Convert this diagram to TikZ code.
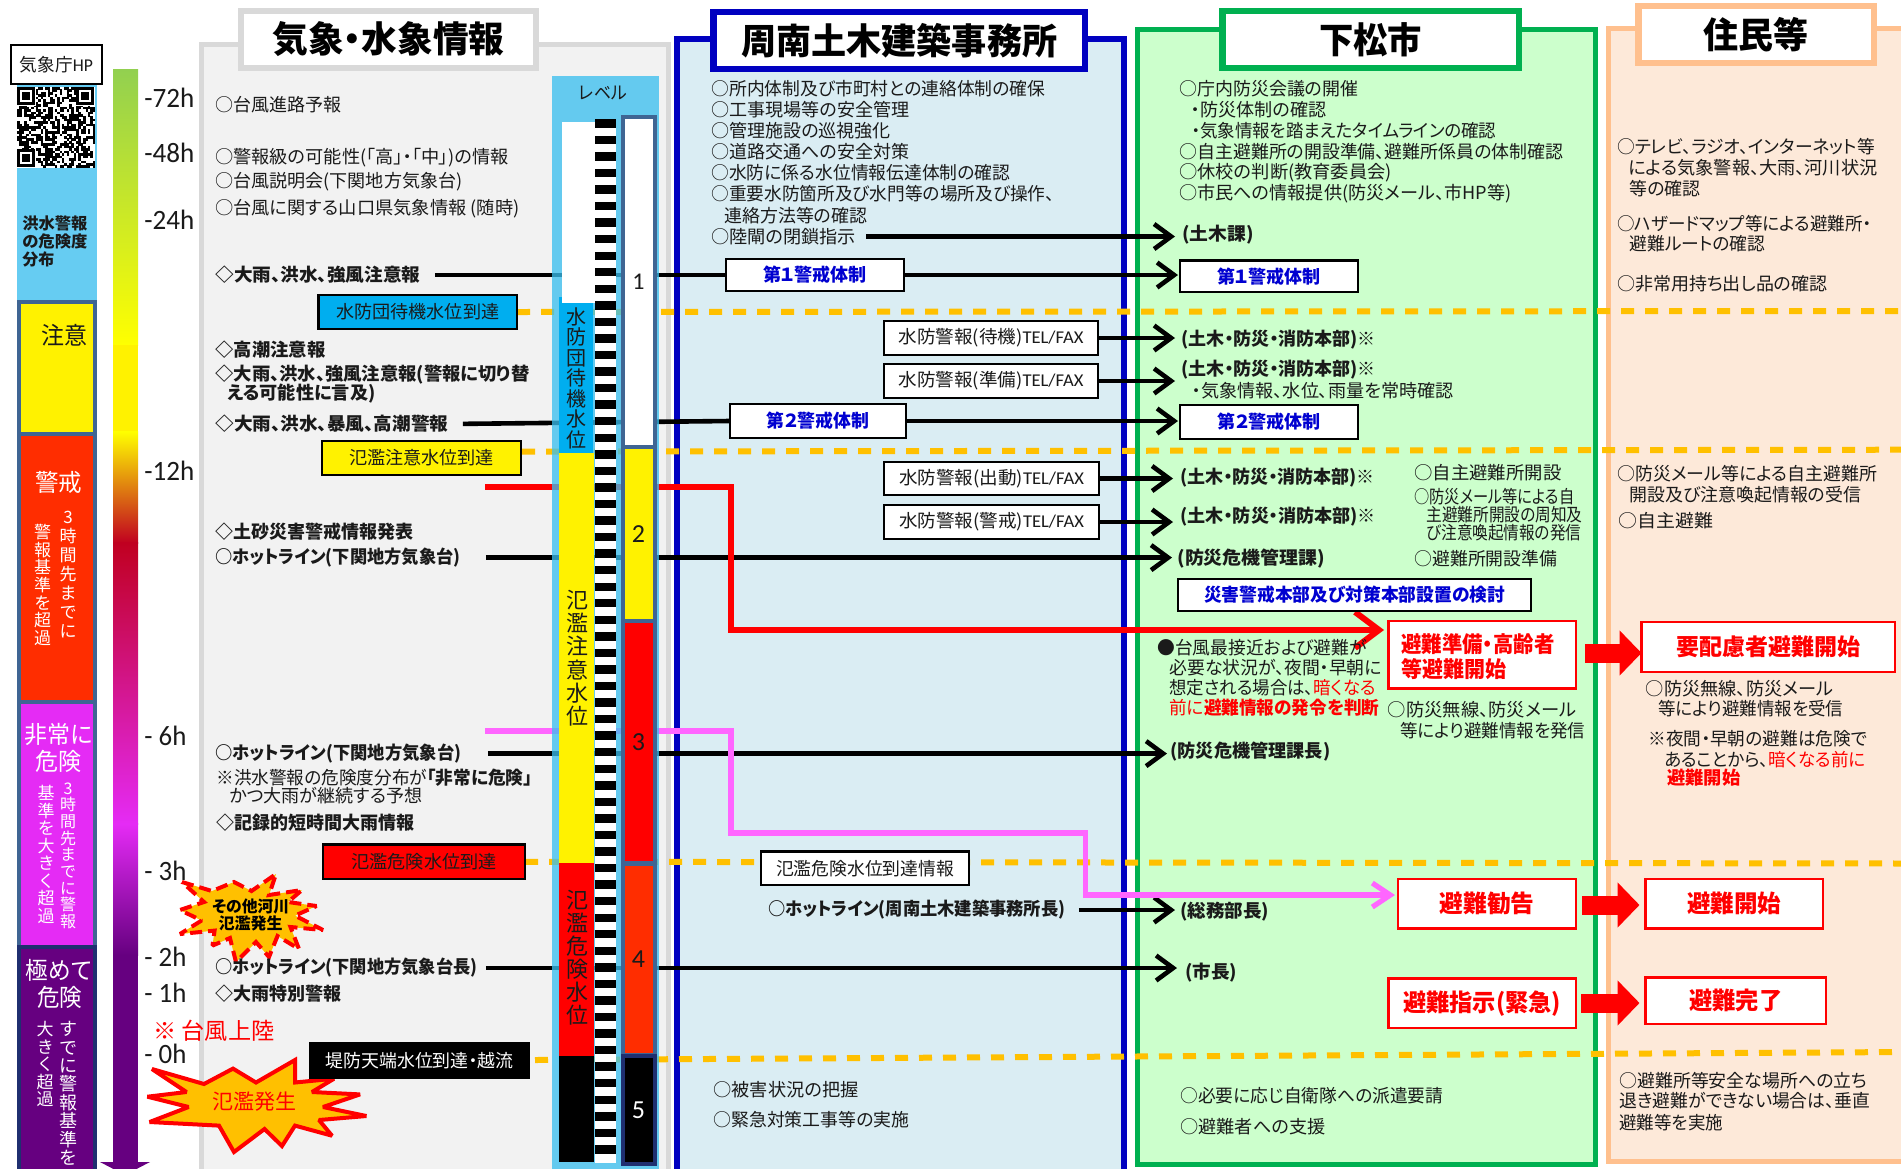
\documentclass[tikz,border=0pt]{standalone}
\usepackage{fontspec}
\usepackage{graphicx}
\setmainfont{Noto Sans CJK JP}[RawFeature=+palt]
\newfontfamily\lat{Carlito}
\usetikzlibrary{arrows.meta,calc,backgrounds}
\definecolor{gpanel}{HTML}{F2F2F2}\definecolor{gline}{HTML}{D9D9D9}
\definecolor{bpanel}{HTML}{DAEDF3}\definecolor{bline}{HTML}{0000C0}
\definecolor{lpanel}{HTML}{CCFFCC}\definecolor{lline}{HTML}{00B050}
\definecolor{opanel}{HTML}{FDE9D9}\definecolor{oline}{HTML}{FFC08E}
\definecolor{sky}{HTML}{66CCF2}\definecolor{cyanbox}{HTML}{00AEEF}
\definecolor{skyb}{HTML}{3ABFEF}
\definecolor{steel}{HTML}{3F6593}\definecolor{warn}{HTML}{FF2D00}
\definecolor{magen}{HTML}{E52BF5}\definecolor{purp}{HTML}{660080}
\definecolor{amber}{HTML}{FFC000}\definecolor{pinkl}{HTML}{FF66FF}
\definecolor{grn}{HTML}{92D050}\definecolor{dred}{HTML}{C00020}
\definecolor{tblue}{HTML}{0000D0}\definecolor{navyb}{HTML}{1F2F70}
\definecolor{txt}{HTML}{1A1A1A}
\pgfdeclarelayer{panel}\pgfdeclarelayer{lines}\pgfdeclarelayer{level}
\pgfsetlayers{panel,lines,level,main}
\newcommand\fs[1]{\fontsize{#1}{#1}\selectfont}
% left-anchored text of prescribed extent: name, x, y, xend, text
\newcommand\TT[5]{\pgfmathsetmacro\tw{(#4-#2)*0.5}%
  \node[anchor=west,inner sep=0pt,text=txt] (#1) at (#2,#3) {\resizebox{\tw pt}{\height}{#5}};}
% centred text: name, cx, cy, width, style, text
\newcommand\TC[6]{\pgfmathsetmacro\tw{(#4)*0.5}%
  \node[inner sep=0pt,#5] (#1) at (#2,#3) {\resizebox{\tw pt}{\height}{#6}};}
% box: name, x1, y1, x2, y2, style, text width, text
\newcommand\BX[8]{\pgfmathsetmacro\bw{(#4-#2)*0.5}\pgfmathsetmacro\bh{(#5-#3)*0.5}%
  \pgfmathsetmacro\bx{(#2+#4)/2}\pgfmathsetmacro\by{(#3+#5)/2}\pgfmathsetmacro\tw{(#7)*0.5}%
  \node[inner sep=0pt,outer sep=0pt,minimum width=\bw pt,minimum height=\bh pt,#6] (#1) at (\bx,\by) {\resizebox{\tw pt}{\height}{#8}};}
% plain rectangle node: name, x1, y1, x2, y2, style
\newcommand\RC[6]{\pgfmathsetmacro\bw{(#4-#2)*0.5}\pgfmathsetmacro\bh{(#5-#3)*0.5}%
  \pgfmathsetmacro\bx{(#2+#4)/2}\pgfmathsetmacro\by{(#3+#5)/2}%
  \node[inner sep=0pt,outer sep=0pt,minimum width=\bw pt,minimum height=\bh pt,#6] (#1) at (\bx,\by) {};}
% vertical text: name, x, top y, font size, spacing, style, lines
\newcommand\VT[7]{\node[anchor=north,inner sep=0pt,align=center,font=\fontsize{#4}{#5}\selectfont,#6] (#1) at (#2,#3) {#7};}
\tikzset{
  every node/.style={font=\fs{9}},
  kbox/.style={draw=black,line width=1.1pt,fill=white,text=txt},
  rbox/.style={draw=red,line width=1.4pt,fill=white,text=red,font=\fs{12}\bfseries},
  lvbar/.style={draw=steel,line width=2pt},
  panelbox/.style={line width=2.5pt},
  titlebox/.style={fill=white,line width=3.2pt,inner sep=0pt},
  bl/.style={line width=2.3pt,draw=black},
  blarrow/.style={line width=2.3pt,draw=black,-{Straight Barb[length=8.5pt,width=12.5pt,line width=2.3pt]}},
  redpath/.style={line width=3pt,draw=red,-{Straight Barb[length=12pt,width=18pt,line width=3pt]}},
  pinkpath/.style={line width=2.6pt,draw=pinkl,-{Straight Barb[length=9pt,width=12pt,line width=2.6pt]}},
  blockar/.style={line width=9.5pt,draw=red,-{Triangle[length=11pt,width=22pt]}},
  dashline/.style={line width=3pt,draw=amber,dash pattern=on 6.5pt off 5.5pt},
}
\begin{document}
\begin{tikzpicture}[x=0.5pt,y=-0.5pt]
\useasboundingbox (0,0) rectangle (1901,1168);
\begin{pgfonlayer}{panel}
  \fill[white] (0,0) rectangle (1901,1168);
  \draw[panelbox,draw=gline,fill=gpanel] (201.5,44) rectangle (668,1180);
  \draw[panelbox,draw=bline,fill=bpanel,line width=3pt] (676.5,39) rectangle (1123.5,1180);
  \draw[panelbox,draw=lline,fill=lpanel] (1137.5,29) rectangle (1595.5,1164);
  \draw[panelbox,draw=oline,fill=opanel] (1608.5,28) rectangle (1915,1161);
\end{pgfonlayer}
% ---- left column
\fill[sky] (17,84) rectangle (97,302);
\fill[white] (17,87) rectangle (95,168);
\pgfmathsetseed{4711}
\foreach \i in {0,...,32}{\foreach \j in {0,...,32}{
  \pgfmathrandominteger{\r}{0}{1}
  \ifnum\r=1 \fill[black] ({17+\i*2.364},{87+\j*2.45}) rectangle ++(2.5,2.6);\fi
}}
\foreach \cx/\cy in {17/87,76/87,17/149}{
  \fill[white] (\cx,\cy) rectangle ++(19,19);
  \fill[black] (\cx,\cy) rectangle ++(18,18);
  \fill[white] ({\cx+2.6},{\cy+2.6}) rectangle ++(12.8,12.8);
  \fill[black] ({\cx+5},{\cy+5}) rectangle ++(8,8);
}
\BX{hp}{11}{45}{102}{84}{kbox}{73}{気象庁{\lat HP}}
\TT{c1}{22}{223}{87}{\fs{8}\textbf{洪水警報}}
\TT{c2}{22}{241}{87}{\fs{8}\textbf{の危険度}}
\TT{c3}{22}{259}{54}{\fs{8}\textbf{分布}}
\RC{ch}{19}{302}{95}{434}{draw=steel,line width=2pt,fill=yellow}
\TC{cht}{64}{335}{46}{text=txt}{\fs{12}注意}
\RC{kei}{19}{434}{95}{702}{draw=steel,line width=2pt,fill=warn}
\TC{keit}{58.5}{482}{47}{text=white}{\fs{12}警戒}
\VT{kv1}{68}{511}{8.5}{9.5}{text=white}{3\\時\\間\\先\\ま\\で\\に}
\VT{kv2}{42.5}{524}{8.5}{8.8}{text=white}{警\\報\\基\\準\\を\\超\\過}
\RC{hi}{19}{702}{95}{947}{draw=steel,line width=2pt,fill=magen}
\TC{hit1}{59}{734.5}{68}{text=white}{\fs{12}非常に}
\TC{hit2}{58.5}{761}{46}{text=white}{\fs{12}危険}
\VT{hv1}{68}{782}{8}{8.35}{text=white}{3\\時\\間\\先\\ま\\で\\に\\警\\報}
\VT{hv2}{46}{785}{8.5}{8.75}{text=white}{基\\準\\を\\大\\き\\く\\超\\過}
\RC{go}{19}{947}{95}{1185}{draw=navyb,line width=2pt,fill=purp}
\TC{got1}{59}{970}{66}{text=white}{\fs{12}極めて}
\TC{got2}{59.5}{997}{45}{text=white}{\fs{12}危険}
\VT{gv1}{68.5}{1021}{9}{9.2}{text=white}{す\\で\\に\\警\\報\\基\\準\\を}
\VT{gv2}{45}{1021}{8.5}{8.75}{text=white}{大\\き\\く\\超\\過}
% ---- time bar
\shade[top color=grn,bottom color=yellow] (113,69) rectangle (138,345);
\fill[yellow] (113,344.5) rectangle (138,432);
\shade[top color=yellow,bottom color=dred] (113,431.5) rectangle (138,543);
\shade[top color=dred,bottom color=magen] (113,542.5) rectangle (138,824);
\shade[top color=magen,bottom color=purp] (113,823.5) rectangle (138,955);
\fill[purp] (113,954.5) rectangle (138,1163);
\fill[purp] (100,1162) -- (150,1162) -- (125,1175) -- cycle;
\foreach \nm/\yy/\tx/\xe in {h72/97.6/-72h/194,h48/153/-48h/194,h24/220/-24h/194,h12/471/-12h/194,h6/736/{- 6h}/186,h3/871/{- 3h}/186,h2/957/{- 2h}/186,h1/992.5/{- 1h}/186,h0/1054/{- 0h}/186}{
  \TT{\nm}{144}{\yy}{\xe}{\lat\fs{14}\tx}
}
% stars
\draw[line width=2pt,draw=red,dash pattern=on 6pt off 3pt,fill=amber,miter limit=2] (182,882)--(212,891)--(234,882)--(251.5,891)--(276,874)--(269,895)--(302,890)--(288,902)--(316.5,906)--(295,915.6)--(323,930)--(290.5,927)--(299,949)--(277.5,936)--(269,957)--(256,942)--(236,962)--(230,938)--(212.5,945.6)--(214.6,930.6)--(180,934)--(201.6,920.5)--(180,910)--(204,902)--cycle;
\TC{st1}{250.6}{907}{77}{text=black}{\fs{8}\textbf{その他河川}}
\TC{st2}{250.6}{923}{64}{text=black}{\fs{8}\textbf{氾濫発生}}
\draw[line width=2pt,draw=red,fill=amber,miter limit=2] (152,1069)--(204,1084)--(233,1068.6)--(256,1082.5)--(295,1060)--(295,1082.5)--(334,1078.7)--(312,1092)--(360,1094.4)--(323,1107)--(366.4,1116)--(319,1120)--(332,1135.7)--(295,1125.6)--(282,1146)--(264.5,1129)--(234,1152)--(219,1125.6)--(149.6,1122)--(188.6,1107)--(147.4,1096.7)--(186.5,1092)--cycle;
\TC{st3}{254.5}{1102}{84}{text=red}{\fs{10.5}氾濫発生}
% ---- weather panel
\BX{gt}{241}{11}{536}{68}{titlebox,draw=gline}{232}{\fs{18}\textbf{気象・水象情報}}
\TT{g1}{215}{104.5}{341}{○台風進路予報}
\TT{g2}{215}{157.7}{508}{○警報級の可能性(「高」・「中」)の情報}
\TT{g3}{215}{182}{462}{○台風説明会(下関地方気象台)}
\TT{g4}{215}{208.6}{519}{○台風に関する山口県気象情報 (随時)}
\TT{g5}{215}{275}{420}{\textbf{◇大雨、洪水、強風注意報}}
\TT{g6}{215}{349.4}{325}{\textbf{◇高潮注意報}}
\TT{g7}{215}{375}{529}{\textbf{◇大雨、洪水、強風注意報(警報に切り替}}
\TT{g8}{227}{394}{375}{\textbf{える可能性に言及)}}
\TT{g9}{215}{424}{448}{\textbf{◇大雨、洪水、暴風、高潮警報}}
\TT{g10}{215}{532}{413}{\textbf{◇土砂災害警戒情報発表}}
\TT{g11}{215}{557.6}{460}{\textbf{○ホットライン(下関地方気象台)}}
\TT{g12}{215}{753.6}{461}{\textbf{○ホットライン(下関地方気象台)}}
\TT{g13}{216}{777.6}{532}{※洪水警報の危険度分布が\textbf{「非常に危険」}}
\TT{g14}{229}{795.6}{422}{かつ大雨が継続する予想}
\TT{g15}{216}{822.6}{414}{\textbf{◇記録的短時間大雨情報}}
\TT{g16}{215}{968}{477}{\textbf{○ホットライン(下関地方気象台長)}}
\TT{g17}{215}{993.6}{341}{\textbf{◇大雨特別警報}}
\TT{g18}{153}{1031}{274}{\fs{11.5}\textcolor{red}{※ 台風上陸}}
\BX{w1}{318.5}{295}{517}{329}{draw=black,line width=1.1pt,fill=cyanbox,text=txt}{163}{水防団待機水位到達}
\BX{w2}{322}{441}{521}{475}{draw=black,line width=1.1pt,fill=yellow,text=txt}{145}{氾濫注意水位到達}
\BX{w3}{323}{844.5}{525}{879}{draw=black,line width=1.1pt,fill=red,text=txt}{145}{氾濫危険水位到達}
\BX{w4}{309}{1042}{530}{1079}{fill=black,text=white}{188}{堤防天端水位到達・越流}
% ---- level column
\begin{pgfonlayer}{level}
  \fill[skyb,fill opacity=.77] (552,76) rectangle (659,1180);
  \fill[white] (595,120) rectangle (616,1163);
  \foreach \i in {0,...,62}{\fill[black] (595,{123.3+16.55*\i-4.2}) rectangle (616,{123.3+16.55*\i+4.2});}
  \fill[cyanbox] (559,297) rectangle (593,453);
  \fill[white] (562,122) rectangle (595,303);
  \fill[yellow] (559,453) rectangle (594,863);
  \fill[red] (559,863) rectangle (594,1056);
  \fill[black] (559,1056) rectangle (594,1162);
\end{pgfonlayer}
\TC{lv}{603}{93}{48}{text=txt}{レベル}
\VT{v1}{576.7}{307}{10}{10.25}{text=txt}{水\\防\\団\\待\\機\\水\\位}
\VT{v2}{577}{590}{11}{11.55}{text=txt}{氾\\濫\\注\\意\\水\\位}
\VT{v3}{577}{889.5}{11}{11.55}{text=txt}{氾\\濫\\危\\険\\水\\位}
\node[lvbar,fill=white,minimum width=16pt,minimum height=165pt,inner sep=0pt,font=\lat\fs{12},text=txt] (l1) at (638.5,282) {1};
\node[lvbar,fill=yellow,minimum width=16pt,minimum height=87pt,inner sep=0pt,font=\lat\fs{13},text=txt] (l2) at (638.5,534) {2};
\node[lvbar,fill=red,minimum width=16pt,minimum height=121pt,inner sep=0pt,font=\lat\fs{13},text=txt] (l3) at (638.5,742) {3};
\node[lvbar,fill=warn,minimum width=16pt,minimum height=95.5pt,inner sep=0pt,font=\lat\fs{13},text=txt] (l4) at (638.5,959) {4};
\node[draw=navyb,line width=2pt,fill=black,minimum width=16pt,minimum height=54pt,inner sep=0pt,font=\lat\fs{13},text=white] (l5) at (638.5,1110) {5};
% ---- civil engineering office
\BX{bt}{713.5}{12}{1085}{69}{titlebox,draw=bline}{316}{\fs{18}\textbf{周南土木建築事務所}}
\TT{b1}{711}{88.8}{1045}{○所内体制及び市町村との連絡体制の確保}
\TT{b2}{711}{110}{909}{○工事現場等の安全管理}
\TT{b3}{711}{131}{890.6}{○管理施設の巡視強化}
\TT{b4}{711}{152}{909}{○道路交通への安全対策}
\TT{b5}{711}{173}{1010}{○水防に係る水位情報伝達体制の確認}
\TT{b6}{711}{194}{1054}{○重要水防箇所及び水門等の場所及び操作、}
\TT{b7}{724}{215.5}{867}{連絡方法等の確認}
\TT{b8}{711}{236.5}{855.6}{○陸閘の閉鎖指示}
\BX{k1}{726}{259}{904}{291}{kbox,text=tblue}{104}{\textbf{第１警戒体制}}
\BX{i1}{884}{321}{1098}{355}{kbox}{185}{水防警報(待機){\lat TEL/FAX}}
\BX{i2}{884}{364}{1098}{398}{kbox}{185}{水防警報(準備){\lat TEL/FAX}}
\BX{k2}{730}{404}{906}{438}{kbox,text=tblue}{103}{\textbf{第２警戒体制}}
\BX{i3}{884}{462}{1099}{495}{kbox}{185}{水防警報(出動){\lat TEL/FAX}}
\BX{i4}{884}{505}{1099}{539}{kbox}{185}{水防警報(警戒){\lat TEL/FAX}}
\BX{i5}{761}{851.5}{969}{885}{kbox}{178}{氾濫危険水位到達情報}
\TT{b9}{768}{910}{1065}{\textbf{○ホットライン(周南土木建築事務所長)}}
\TT{b10}{713}{1090}{858}{○被害状況の把握}
\TT{b11}{713}{1120}{909}{○緊急対策工事等の実施}
% ---- city
\BX{st}{1222.5}{11}{1519}{68}{titlebox,draw=lline}{103}{\fs{18}\textbf{下松市}}
\TT{s1}{1179}{88.8}{1358}{○庁内防災会議の開催}
\TT{s2}{1191}{110}{1326}{・防災体制の確認}
\TT{s3}{1191}{131}{1496}{・気象情報を踏まえたタイムラインの確認}
\TT{s4}{1179}{152}{1563}{○自主避難所の開設準備、避難所係員の体制確認}
\TT{s5}{1179}{173}{1391.5}{○休校の判断(教育委員会)}
\TT{s6}{1179}{194}{1511}{○市民への情報提供(防災メール、市HP等)}
\TT{s7}{1182}{235}{1253.5}{\textbf{(土木課)}}
\BX{s1b}{1180}{260.5}{1358}{292}{kbox,text=tblue}{104}{\textbf{第１警戒体制}}
\TT{s8}{1181}{340}{1375.5}{\textbf{(土木・防災・消防本部)※}}
\TT{s9}{1181}{370}{1375.5}{\textbf{(土木・防災・消防本部)※}}
\TT{s10}{1192}{391}{1453}{・気象情報、水位、雨量を常時確認}
\BX{s2b}{1180}{405}{1358}{439}{kbox,text=tblue}{104}{\textbf{第２警戒体制}}
\TT{s11}{1180}{478}{1374.5}{\textbf{(土木・防災・消防本部)※}}
\TT{s12}{1180}{516.6}{1375.5}{\textbf{(土木・防災・消防本部)※}}
\TT{s13}{1177}{558.7}{1325}{\textbf{(防災危機管理課)}}
\TT{s14}{1414}{472.6}{1561}{○自主避難所開設}
\TT{s15}{1414}{496.7}{1574}{○防災メール等による自}
\TT{s16}{1426}{514.7}{1582}{主避難所開設の周知及}
\TT{s17}{1426}{532.7}{1581}{び注意喚起情報の発信}
\TT{s18}{1414}{558.7}{1557}{○避難所開設準備}
\BX{sd}{1178}{579}{1531}{611}{kbox,text=tblue}{301}{\textbf{災害警戒本部及び対策本部設置の検討}}
\RC{yb}{1388.5}{621}{1576}{688.5}{rbox}
\TT{y1}{1401}{644}{1554}{\fs{11}\textcolor{red}{\textbf{避難準備・高齢者}}}
\TT{y2}{1401}{669}{1506}{\fs{11}\textcolor{red}{\textbf{等避難開始}}}
\BX{yo}{1641.5}{622}{1895}{672}{rbox}{184}{\fs{11.5}\textbf{要配慮者避難開始}}
\TT{s19}{1157}{647.5}{1366.5}{●台風最接近および避難が}
\TT{s20}{1169}{668}{1381.5}{必要な状況が、夜間・早朝に}
\TT{s21}{1169}{687.6}{1375.5}{想定される場合は、\textcolor{red}{暗くなる}}
\TT{s22}{1169}{708}{1379}{\textcolor{red}{前に\textbf{避難情報の発令を判断}}}
\TT{s23}{1387.5}{710}{1576}{○防災無線、防災メール}
\TT{s24}{1400}{731}{1585}{等により避難情報を発信}
\TT{s25}{1170}{752}{1330}{\textbf{(防災危機管理課長)}}
\TT{s26}{1180}{912}{1269}{\textbf{(総務部長)}}
\TT{s27}{1185}{973}{1237}{\textbf{(市長)}}
\BX{kk}{1398}{879}{1576}{928.5}{rbox}{95}{\fs{12}\textbf{避難勧告}}
\BX{ks}{1645.5}{879}{1823}{928.5}{rbox}{94}{\fs{12}\textbf{避難開始}}
\BX{sj}{1388.5}{978.5}{1576}{1028}{rbox}{158}{\fs{12}\textbf{避難指示(緊急)}}
\BX{kr}{1645.5}{977.7}{1826}{1024}{rbox}{93}{\fs{12}\textbf{避難完了}}
\TT{s28}{1180}{1096}{1443}{○必要に応じ自衛隊への派遣要請}
\TT{s29}{1180}{1127}{1325}{○避難者への支援}
% ---- residents
\BX{ot}{1638.5}{6}{1874}{63}{titlebox,draw=oline}{105}{\fs{18}\textbf{住民等}}
\TT{o1}{1616.6}{146.6}{1874.6}{○テレビ、ラジオ、インターネット等}
\TT{o2}{1628}{167.6}{1877}{による気象警報、大雨、河川状況}
\TT{o3}{1629}{188.7}{1700}{等の確認}
\TT{o4}{1616.6}{224}{1871}{○ハザードマップ等による避難所・}
\TT{o5}{1629}{244}{1765}{避難ルートの確認}
\TT{o6}{1616.6}{284}{1827}{○非常用持ち出し品の確認}
\TT{o7}{1617}{473.8}{1877}{○防災メール等による自主避難所}
\TT{o8}{1629}{494.4}{1860.6}{開設及び注意喚起情報の受信}
\TT{o9}{1618}{521}{1712.7}{○自主避難}
\TT{o10}{1645.5}{688.7}{1833}{○防災無線、防災メール}
\TT{o11}{1658}{709}{1843}{等により避難情報を受信}
\TT{o12}{1648}{739}{1867}{※夜間・早朝の避難は危険で}
\TT{o13}{1664}{760}{1865}{あることから、\textcolor{red}{暗くなる前に}}
\TT{o14}{1667}{778}{1740}{\textcolor{red}{\textbf{避難開始}}}
\TT{o15}{1619}{1080.6}{1867}{○避難所等安全な場所への立ち}
\TT{o16}{1619}{1101}{1869.6}{退き避難ができない場合は、垂直}
\TT{o17}{1619}{1123}{1722.7}{避難等を実施}
% ---- connectors
\coordinate (rs) at (485,487); \coordinate (ra) at (731,487); \coordinate (rb) at (731,630); \coordinate (rc) at (1384,630);
\coordinate (ps) at (485,731); \coordinate (pa) at (731,731); \coordinate (pb) at (731,833); \coordinate (pc) at (1085.7,833); \coordinate (pd) at (1085.7,895); \coordinate (pe) at (1395,895);
\coordinate (d1e) at (1905,311); \coordinate (d2s) at (522,451.6); \coordinate (d2e) at (1905,449.7);
\coordinate (d3e) at (1905,863.5); \coordinate (d4s) at (535,1060); \coordinate (d4e) at (1905,1052);
\coordinate (fa1) at (1585,653); \coordinate (fa2) at (1582,905); \coordinate (fa3) at (1581,1003);
\begin{pgfonlayer}{lines}
  \draw[dashline] (w1.east) -- (d1e);
  \draw[dashline] (d2s) -- (d2e);
  \draw[dashline] (w3.east) -- (d3e);
  \draw[dashline] (d4s) -- (d4e);
  \draw[bl,shorten <=7pt] (g5.east) -- (k1.west);
  \draw[blarrow,shorten >=1pt] (k1.east) -- (k1.east -| s1b.west);
  \draw[bl,shorten <=7pt] (g9.east) -- (k2.west);
  \draw[blarrow,shorten >=1pt] (k2.east) -- (k2.east -| s2b.west);
  \draw[blarrow,shorten <=5pt,shorten >=3.5pt] (b8.east) -- (b8.east -| s7.west);
  \draw[blarrow,shorten >=3pt] (i1.east) -- (i1.east -| s8.west);
  \draw[blarrow,shorten >=3pt] (i2.east) -- (i2.east -| s9.west);
  \draw[blarrow,shorten >=3.5pt] (i3.east) -- (i3.east -| s11.west);
  \draw[blarrow,shorten >=3.5pt] (i4.east) -- (i4.east -| s12.west);
  \draw[blarrow,shorten <=12.5pt,shorten >=2.5pt] (g11.east) -- (g11.east -| s13.west);
  \draw[blarrow,shorten <=13pt,shorten >=1.5pt] (g12.east) -- (g12.east -| s25.west);
  \draw[blarrow,shorten <=4pt,shorten >=4pt] (g16.east) -- (g16.east -| s27.west);
  \draw[blarrow,shorten <=6.5pt,shorten >=2.5pt] (b9.east) -- (b9.east -| s26.west);
  \draw[redpath] (rs) -- (ra) -- (rb) -- (rc);
  \draw[pinkpath] (ps) -- (pa) -- (pb) -- (pc) -- (pd) -- (pe);
  \draw[blockar] (fa1) -- (fa1 -| yo.west);
  \draw[blockar,shorten >=3pt] (fa2) -- (fa2 -| ks.west);
  \draw[blockar,shorten >=3pt] (fa3) -- (fa3 -| kr.west);
\end{pgfonlayer}
\end{tikzpicture}
\end{document}
